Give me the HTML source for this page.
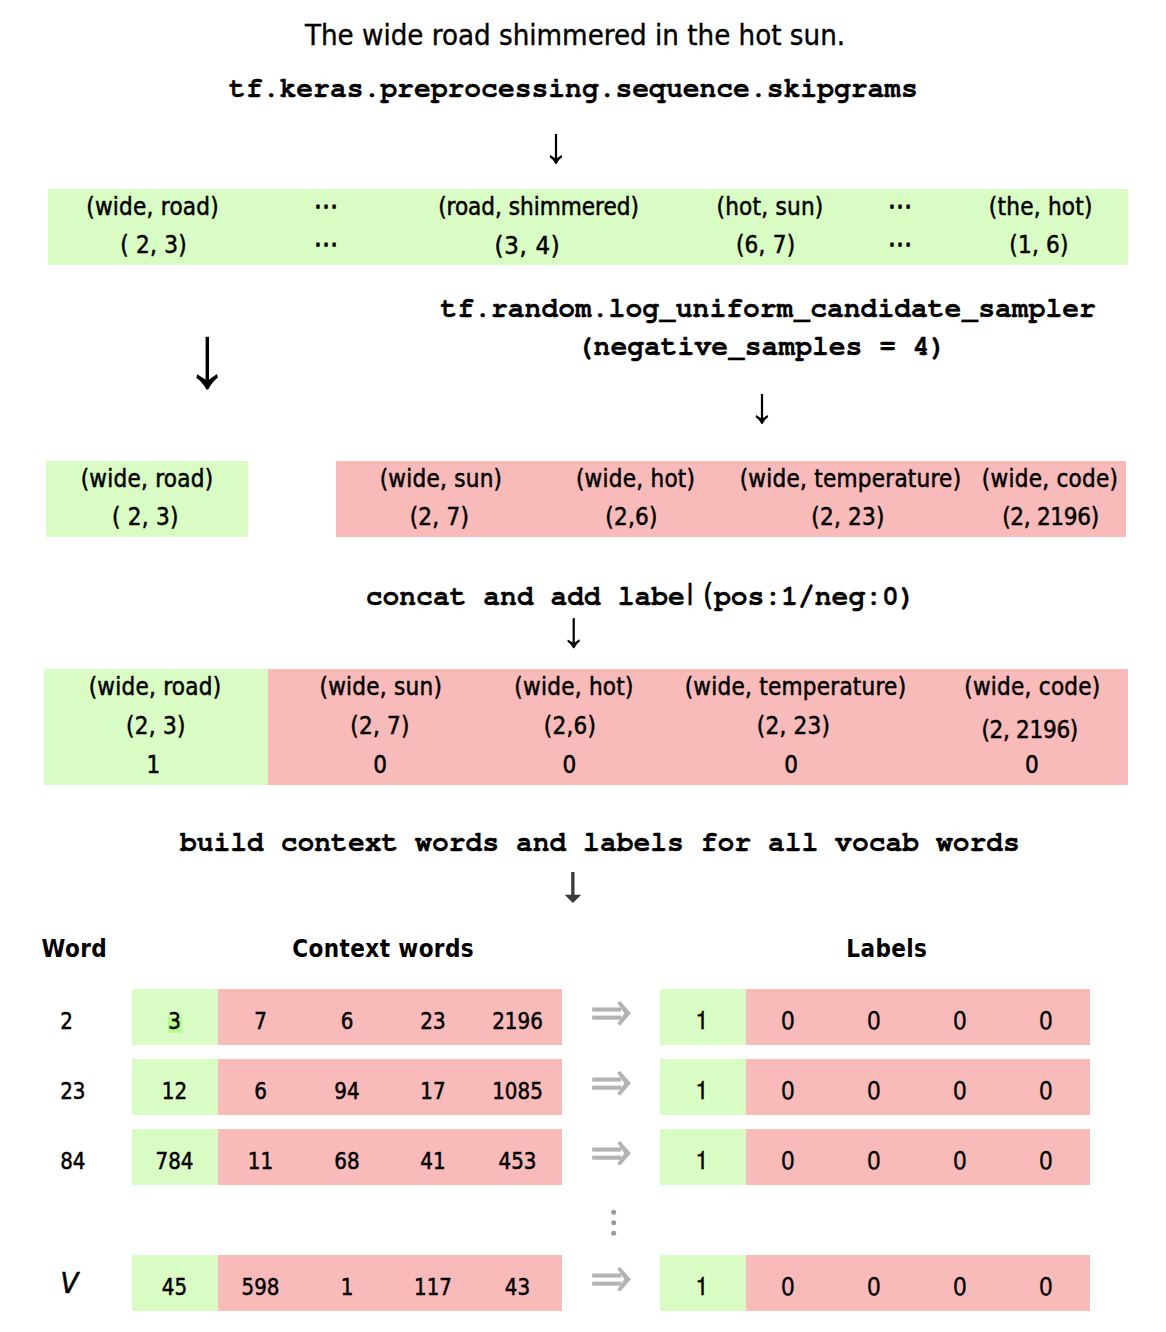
<!DOCTYPE html>
<html><head><meta charset="utf-8"><title>word2vec negative sampling</title>
<style>
html,body{margin:0;padding:0;background:#fff;}
body{width:1166px;height:1332px;overflow:hidden;}
svg{display:block;}
.title{font-family:'DejaVu Sans Condensed', 'DejaVu Sans', sans-serif;font-size:29px;fill:#000;stroke:#000;stroke-width:0.35px;}
.s{font-family:'DejaVu Sans Condensed', 'DejaVu Sans', sans-serif;font-size:24px;fill:#000;stroke:#000;stroke-width:0.5px;letter-spacing:0.25px;}
.h{font-family:'DejaVu Sans Condensed', 'DejaVu Sans', sans-serif;font-size:24px;font-weight:bold;fill:#000;letter-spacing:0.4px;}
.v{font-family:'DejaVu Sans Condensed', 'DejaVu Sans', sans-serif;font-size:29px;font-style:italic;fill:#000;stroke:#000;stroke-width:0.6px;}
.dots{font-family:'DejaVu Sans Condensed', 'DejaVu Sans', sans-serif;font-size:27px;fill:#000;stroke:#000;stroke-width:0.9px;stroke-linejoin:round;}
.num{font-size:23.5px;letter-spacing:0;}
.lab{font-family:'FreeSans', 'Liberation Sans', Arial, sans-serif;font-size:24px;fill:#000;stroke:#000;stroke-width:0.3px;}
.mono{font-family:'FreeMono', 'Liberation Mono', 'Courier New', monospace;font-size:28px;font-weight:bold;fill:#000;stroke:#000;stroke-width:0.3px;}
</style></head>
<body>
<svg width="1166" height="1332" viewBox="0 0 1166 1332">
<rect x="0" y="0" width="1166" height="1332" fill="#fff"/>
<text x="575" y="44.7" class="title" text-anchor="middle" style="font-size:29.15px">The wide road shimmered in the hot sun.</text>
<text x="573.5" y="96.5" class="mono" text-anchor="middle">tf.keras.preprocessing.sequence.skipgrams</text>
<rect x="554.90" y="134" width="2.2" height="24.90" fill="#000"/>
<path d="M555.50 163.90 Q552.60 158.85 549.70 157.20 L550.10 155.10 L554.90 158.10 L557.10 158.10 L561.60 155.00 L562.20 157.00 Q559.40 158.85 556.50 163.90 Z" fill="#000"/>
<rect x="48" y="189" width="1080" height="76" fill="#d9fcc4"/>
<text x="152.6" y="215" class="s" text-anchor="middle">(wide, road)</text>
<text x="538.5" y="215" class="s" text-anchor="middle" style="letter-spacing:0">(road, shimmered)</text>
<text x="770" y="215" class="s" text-anchor="middle">(hot, sun)</text>
<text x="1040.8" y="215" class="s" text-anchor="middle">(the, hot)</text>
<text x="153.5" y="252.7" class="s" text-anchor="middle">( 2, 3)</text>
<text x="765.7" y="252.7" class="s" text-anchor="middle">(6, 7)</text>
<text x="1039" y="252.7" class="s" text-anchor="middle">(1, 6)</text>
<text x="527.5" y="253.5" class="s" text-anchor="middle" style="font-size:25.5px;letter-spacing:0.7px">(3, 4)</text>
<text x="326" y="214.8" class="dots" text-anchor="middle">⋯</text>
<text x="326" y="252.7" class="dots" text-anchor="middle">⋯</text>
<text x="900" y="214.8" class="dots" text-anchor="middle">⋯</text>
<text x="900" y="252.7" class="dots" text-anchor="middle">⋯</text>
<text x="440.6" y="316.8" class="mono" text-anchor="start">tf.random.log_uniform_candidate_sampler</text>
<text x="576.8" y="354.5" class="mono" text-anchor="start">(negative_samples = 4)</text>
<rect x="205.60" y="336.8" width="3.4" height="44.00" fill="#000"/>
<path d="M206.44 389.40 Q201.45 380.71 196.46 377.88 L197.15 374.26 L205.41 379.42 L209.19 379.42 L216.93 374.09 L217.96 377.53 Q213.15 380.71 208.16 389.40 Z" fill="#000"/>
<rect x="760.90" y="394" width="2.2" height="24.90" fill="#000"/>
<path d="M761.50 423.90 Q758.60 418.85 755.70 417.20 L756.10 415.10 L760.90 418.10 L763.10 418.10 L767.60 415.00 L768.20 417.00 Q765.40 418.85 762.50 423.90 Z" fill="#000"/>
<rect x="46" y="461" width="202" height="76" fill="#d9fcc4"/>
<rect x="336" y="461" width="790" height="76" fill="#f9baba"/>
<text x="147" y="486.7" class="s" text-anchor="middle">(wide, road)</text>
<text x="441" y="486.7" class="s" text-anchor="middle">(wide, sun)</text>
<text x="635.6" y="486.7" class="s" text-anchor="middle">(wide, hot)</text>
<text x="850.5" y="486.7" class="s" text-anchor="middle">(wide, temperature)</text>
<text x="1050" y="486.7" class="s" text-anchor="middle">(wide, code)</text>
<text x="145.3" y="524.8" class="s" text-anchor="middle">( 2, 3)</text>
<text x="439.4" y="524.8" class="s" text-anchor="middle">(2, 7)</text>
<text x="631.5" y="524.8" class="s" text-anchor="middle">(2,6)</text>
<text x="848" y="524.8" class="s" text-anchor="middle">(2, 23)</text>
<text x="1050.5" y="524.8" class="s" text-anchor="middle" style="letter-spacing:-0.3px">(2, 2196)</text>
<text x="365.7" y="605.4" class="mono" text-anchor="start">concat and add labe</text>
<text x="686.5" y="605.4" class="s" text-anchor="start" style="font-size:28px">l</text>
<text x="703" y="605.4" class="s" text-anchor="start" style="font-size:29.5px">(</text>
<text x="714" y="605.4" class="mono" text-anchor="start">pos:1/neg:0)</text>
<rect x="572.60" y="618.2" width="2.2" height="25.00" fill="#000"/>
<path d="M573.20 648.20 Q570.30 643.15 567.40 641.50 L567.80 639.40 L572.60 642.40 L574.80 642.40 L579.30 639.30 L579.90 641.30 Q577.10 643.15 574.20 648.20 Z" fill="#000"/>
<rect x="44" y="669" width="224" height="116" fill="#d9fcc4"/>
<rect x="268" y="669" width="860" height="116" fill="#f9baba"/>
<text x="155" y="694.6" class="s" text-anchor="middle">(wide, road)</text>
<text x="155.8" y="734.3" class="s" text-anchor="middle">(2, 3)</text>
<text x="153.4" y="772.7" class="s" text-anchor="middle">1</text>
<text x="380.8" y="694.6" class="s" text-anchor="middle">(wide, sun)</text>
<text x="380" y="734.3" class="s" text-anchor="middle">(2, 7)</text>
<text x="380.2" y="772.7" class="s" text-anchor="middle">0</text>
<text x="574" y="694.6" class="s" text-anchor="middle">(wide, hot)</text>
<text x="570" y="734.3" class="s" text-anchor="middle">(2,6)</text>
<text x="569.4" y="772.7" class="s" text-anchor="middle">0</text>
<text x="795.5" y="694.6" class="s" text-anchor="middle">(wide, temperature)</text>
<text x="793.5" y="734.3" class="s" text-anchor="middle">(2, 23)</text>
<text x="791.3" y="772.7" class="s" text-anchor="middle">0</text>
<text x="1032.4" y="694.6" class="s" text-anchor="middle">(wide, code)</text>
<text x="1029.7" y="737.5" class="s" text-anchor="middle" style="letter-spacing:-0.3px">(2, 2196)</text>
<text x="1032" y="772.7" class="s" text-anchor="middle">0</text>
<text x="179.9" y="850.6" class="mono" text-anchor="start">build context words and labels for all vocab words</text>
<rect x="571.2" y="872" width="3.3" height="24" fill="#3a3a3a"/>
<path d="M564.6 894.7 L581.3 894.7 L572.9 903 Z" fill="#3a3a3a"/>
<text x="41.6" y="956.5" class="h" text-anchor="start">Word</text>
<text x="292.3" y="956.5" class="h" text-anchor="start">Context words</text>
<text x="846.3" y="956.5" class="h" text-anchor="start">Labels</text>
<rect x="132" y="989" width="86" height="56" fill="#d9fcc4"/>
<rect x="218" y="989" width="344" height="56" fill="#f9baba"/>
<rect x="660" y="989" width="86" height="56" fill="#d9fcc4"/>
<rect x="746" y="989" width="344" height="56" fill="#f9baba"/>
<text transform="translate(60.2 1028.6) scale(0.94 1)" x="0" y="0" class="s num" text-anchor="start">2</text>
<rect x="168.1" y="1017.1" width="13.8" height="15.6" fill="#b4f98e"/>
<text transform="translate(174.5 1028.6) scale(0.94 1)" x="0" y="0" class="s num" text-anchor="middle">3</text>
<text transform="translate(260.5 1028.6) scale(0.94 1)" x="0" y="0" class="s num" text-anchor="middle">7</text>
<text transform="translate(347 1028.6) scale(0.94 1)" x="0" y="0" class="s num" text-anchor="middle">6</text>
<text transform="translate(433 1028.6) scale(0.94 1)" x="0" y="0" class="s num" text-anchor="middle">23</text>
<text transform="translate(517.5 1028.6) scale(0.94 1)" x="0" y="0" class="s num" text-anchor="middle">2196</text>
<text x="702" y="1028.6" class="lab" text-anchor="middle">1</text>
<text x="788" y="1028.6" class="lab" text-anchor="middle">0</text>
<text x="874" y="1028.6" class="lab" text-anchor="middle">0</text>
<text x="960" y="1028.6" class="lab" text-anchor="middle">0</text>
<text x="1046" y="1028.6" class="lab" text-anchor="middle">0</text>
<rect x="592.2" y="1007.50" width="29" height="4.1" fill="#b3b3b3"/>
<rect x="592.2" y="1015.60" width="29" height="4.1" fill="#b3b3b3"/>
<path d="M620.2 1001.10 L630.9 1013.30 L620.2 1025.50 L617.2 1023.80 L624.3 1013.30 L617.2 1002.80 Z" fill="#b3b3b3"/>
<rect x="132" y="1059" width="86" height="56" fill="#d9fcc4"/>
<rect x="218" y="1059" width="344" height="56" fill="#f9baba"/>
<rect x="660" y="1059" width="86" height="56" fill="#d9fcc4"/>
<rect x="746" y="1059" width="344" height="56" fill="#f9baba"/>
<text transform="translate(60.2 1098.6) scale(0.94 1)" x="0" y="0" class="s num" text-anchor="start">23</text>
<text transform="translate(174.5 1098.6) scale(0.94 1)" x="0" y="0" class="s num" text-anchor="middle">12</text>
<text transform="translate(260.5 1098.6) scale(0.94 1)" x="0" y="0" class="s num" text-anchor="middle">6</text>
<text transform="translate(347 1098.6) scale(0.94 1)" x="0" y="0" class="s num" text-anchor="middle">94</text>
<text transform="translate(433 1098.6) scale(0.94 1)" x="0" y="0" class="s num" text-anchor="middle">17</text>
<text transform="translate(517.5 1098.6) scale(0.94 1)" x="0" y="0" class="s num" text-anchor="middle">1085</text>
<text x="702" y="1098.6" class="lab" text-anchor="middle">1</text>
<text x="788" y="1098.6" class="lab" text-anchor="middle">0</text>
<text x="874" y="1098.6" class="lab" text-anchor="middle">0</text>
<text x="960" y="1098.6" class="lab" text-anchor="middle">0</text>
<text x="1046" y="1098.6" class="lab" text-anchor="middle">0</text>
<rect x="592.2" y="1077.50" width="29" height="4.1" fill="#b3b3b3"/>
<rect x="592.2" y="1085.60" width="29" height="4.1" fill="#b3b3b3"/>
<path d="M620.2 1071.10 L630.9 1083.30 L620.2 1095.50 L617.2 1093.80 L624.3 1083.30 L617.2 1072.80 Z" fill="#b3b3b3"/>
<rect x="132" y="1129" width="86" height="56" fill="#d9fcc4"/>
<rect x="218" y="1129" width="344" height="56" fill="#f9baba"/>
<rect x="660" y="1129" width="86" height="56" fill="#d9fcc4"/>
<rect x="746" y="1129" width="344" height="56" fill="#f9baba"/>
<text transform="translate(60.2 1168.6) scale(0.94 1)" x="0" y="0" class="s num" text-anchor="start">84</text>
<text transform="translate(174.5 1168.6) scale(0.94 1)" x="0" y="0" class="s num" text-anchor="middle">784</text>
<text transform="translate(260.5 1168.6) scale(0.94 1)" x="0" y="0" class="s num" text-anchor="middle">11</text>
<text transform="translate(347 1168.6) scale(0.94 1)" x="0" y="0" class="s num" text-anchor="middle">68</text>
<text transform="translate(433 1168.6) scale(0.94 1)" x="0" y="0" class="s num" text-anchor="middle">41</text>
<text transform="translate(517.5 1168.6) scale(0.94 1)" x="0" y="0" class="s num" text-anchor="middle">453</text>
<text x="702" y="1168.6" class="lab" text-anchor="middle">1</text>
<text x="788" y="1168.6" class="lab" text-anchor="middle">0</text>
<text x="874" y="1168.6" class="lab" text-anchor="middle">0</text>
<text x="960" y="1168.6" class="lab" text-anchor="middle">0</text>
<text x="1046" y="1168.6" class="lab" text-anchor="middle">0</text>
<rect x="592.2" y="1147.50" width="29" height="4.1" fill="#b3b3b3"/>
<rect x="592.2" y="1155.60" width="29" height="4.1" fill="#b3b3b3"/>
<path d="M620.2 1141.10 L630.9 1153.30 L620.2 1165.50 L617.2 1163.80 L624.3 1153.30 L617.2 1142.80 Z" fill="#b3b3b3"/>
<rect x="132" y="1255" width="86" height="56" fill="#d9fcc4"/>
<rect x="218" y="1255" width="344" height="56" fill="#f9baba"/>
<rect x="660" y="1255" width="86" height="56" fill="#d9fcc4"/>
<rect x="746" y="1255" width="344" height="56" fill="#f9baba"/>
<text x="60.5" y="1293" class="v" text-anchor="start">V</text>
<text transform="translate(174.5 1294.6) scale(0.94 1)" x="0" y="0" class="s num" text-anchor="middle">45</text>
<text transform="translate(260.5 1294.6) scale(0.94 1)" x="0" y="0" class="s num" text-anchor="middle">598</text>
<text transform="translate(347 1294.6) scale(0.94 1)" x="0" y="0" class="s num" text-anchor="middle">1</text>
<text transform="translate(433 1294.6) scale(0.94 1)" x="0" y="0" class="s num" text-anchor="middle">117</text>
<text transform="translate(517.5 1294.6) scale(0.94 1)" x="0" y="0" class="s num" text-anchor="middle">43</text>
<text x="702" y="1294.6" class="lab" text-anchor="middle">1</text>
<text x="788" y="1294.6" class="lab" text-anchor="middle">0</text>
<text x="874" y="1294.6" class="lab" text-anchor="middle">0</text>
<text x="960" y="1294.6" class="lab" text-anchor="middle">0</text>
<text x="1046" y="1294.6" class="lab" text-anchor="middle">0</text>
<rect x="592.2" y="1273.50" width="29" height="4.1" fill="#b3b3b3"/>
<rect x="592.2" y="1281.60" width="29" height="4.1" fill="#b3b3b3"/>
<path d="M620.2 1267.10 L630.9 1279.30 L620.2 1291.50 L617.2 1289.80 L624.3 1279.30 L617.2 1268.80 Z" fill="#b3b3b3"/>
<circle cx="613.7" cy="1212.3" r="2.5" fill="#9a9a9a"/>
<circle cx="613.7" cy="1222.7" r="2.5" fill="#9a9a9a"/>
<circle cx="613.7" cy="1233.2" r="2.5" fill="#9a9a9a"/>
</svg>
</body></html>
